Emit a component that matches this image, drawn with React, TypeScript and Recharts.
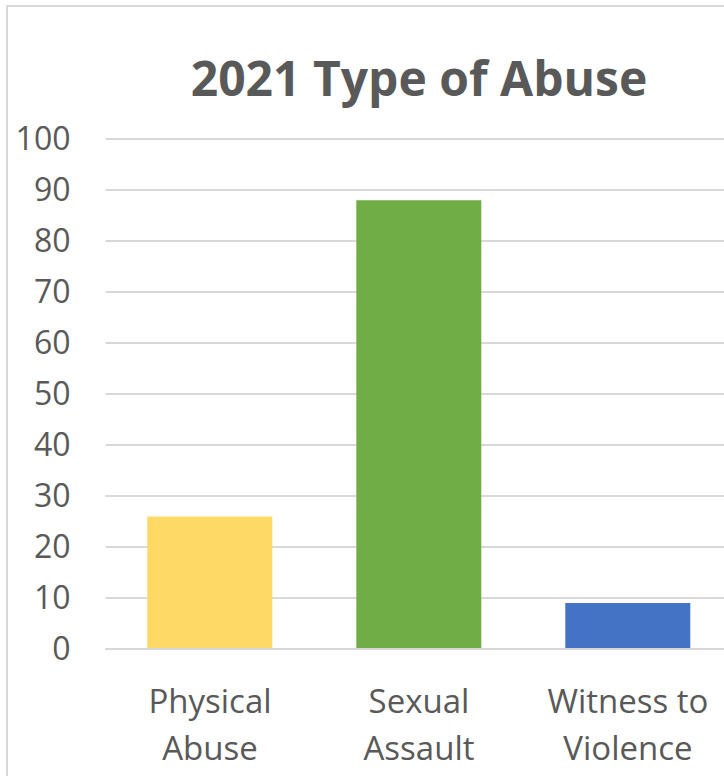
import React from 'react';
import { BarChart, Bar, CartesianGrid, XAxis, YAxis, Cell } from 'recharts';

const categories = ['Physical Abuse', 'Sexual Assault', 'Witness to Violence'];
const tickLines = [['Physical', 'Abuse'], ['Sexual', 'Assault'], ['Witness to', 'Violence']];
const counts = [26, 88, 9];
const barColors = ['#FFD966', '#70AD47', '#4472C4'];
const yTicks = [0, 10, 20, 30, 40, 50, 60, 70, 80, 90, 100];
const title = '2021 Type of Abuse';

const font = '"Open Sans", "Noto Sans", sans-serif';
const data = categories.map((c, i) => ({ name: c, value: counts[i] }));

function CategoryTick(props: any) {
  const { x, y, payload } = props;
  const idx = categories.indexOf(payload.value);
  const lines = tickLines[idx] || [payload.value];
  return (
    <g>
      {lines.map((l, i) => (
        <text key={i} x={x} y={y + 64 + i * 47} textAnchor="middle" fill="#595959" fontSize={33} fontFamily={font}>
          {l}
        </text>
      ))}
    </g>
  );
}

export default function App() {
  return (
    <div style={{ position: 'absolute', left: 0, top: 0, width: 724, height: 776, overflow: 'hidden', background: '#fff' }}>
      <div style={{ position: 'absolute', left: 6, top: 5, width: 760, height: 800, border: '2px solid #d9d9d9' }} />
      <svg width={724} height={120} style={{ position: 'absolute', left: 0, top: 0 }}>
        <text x={419} y={96} textAnchor="middle" fontSize={48} fontWeight="bold" fill="#595959" fontFamily={font}>
          {title}
        </text>
      </svg>
      <div style={{ position: 'absolute', left: 0, top: 0 }}>
        <BarChart width={740} height={776} data={data} margin={{ top: 139, right: 7.5, left: 0, bottom: 0 }} barCategoryGap="20%">
          <CartesianGrid vertical={false} stroke="#d9d9d9" strokeWidth={2} />
          <XAxis
            dataKey="name"
            height={127}
            tickLine={false}
            axisLine={{ stroke: '#d9d9d9', strokeWidth: 2 }}
            tickSize={0}
            tickMargin={0}
            interval={0}
            tick={<CategoryTick />}
          />
          <YAxis
            width={105.5}
            domain={[0, 100]}
            ticks={yTicks}
            tickLine={false}
            axisLine={false}
            tickSize={0}
            tickMargin={35}
            tick={{ fill: '#595959', fontSize: 32, fontFamily: font }}
          />
          <Bar dataKey="value" isAnimationActive={false}>
            {data.map((d, i) => (
              <Cell key={d.name} fill={barColors[i]} />
            ))}
          </Bar>
        </BarChart>
      </div>
    </div>
  );
}
